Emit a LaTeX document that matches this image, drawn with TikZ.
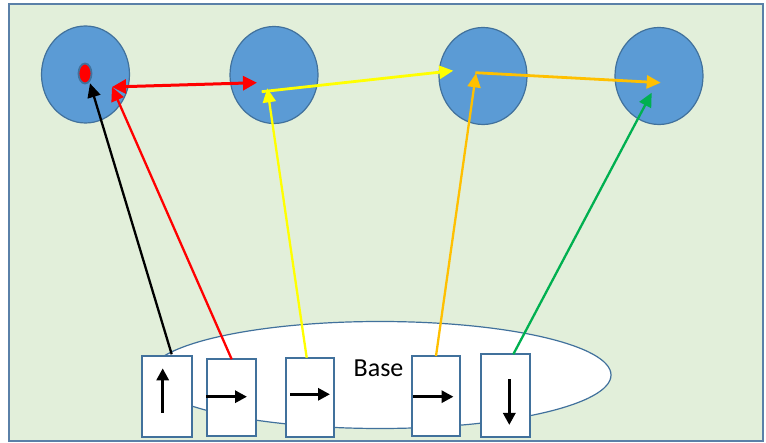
\documentclass[tikz,border=0pt]{standalone}
\usepackage{fontspec}
\setmainfont{Carlito}
\usetikzlibrary{arrows.meta,shapes.geometric}
\definecolor{bgfill}{HTML}{E2EFDA}
\definecolor{frameblue}{HTML}{5A80A8}
\definecolor{circfill}{HTML}{5B9BD5}
\definecolor{circline}{HTML}{41719C}
\definecolor{myyellow}{HTML}{FFFF00}
\definecolor{myorange}{HTML}{FFC000}
\definecolor{mygreen}{HTML}{00B050}
\tikzset{
  site/.style={ellipse, draw=circline, line width=1.2pt, fill=circfill, minimum width=88pt, minimum height=97pt, inner sep=0pt},
  cell/.style={rectangle, draw=circline, line width=1.8pt, fill=white, minimum width=48pt, minimum height=79pt, inner sep=0pt},
  link/.style={line width=2.3pt, -{Triangle[length=14pt,width=13pt]}},
  inarrow/.style={line width=3pt, -{Triangle[length=12pt,width=12pt]}}
}
\begin{document}
\begin{tikzpicture}[x=1pt,y=-1pt]
\useasboundingbox (0,0) rectangle (766,443);
\draw[fill=bgfill, draw=frameblue, line width=2pt] (9,4) rectangle (763,441);
% base
\node[ellipse, draw=circline, line width=1.2pt, fill=white, minimum width=462pt, minimum height=107pt, inner sep=0pt] (base) at (380,375) {};
\node[font=\fontsize{26}{26}\selectfont, anchor=center] (basetxt) at (378.5,368) {Base};
% top sites
\node[site] (c1) at (85.5,74.5) {};
\node[site] (c2) at (274,75) {};
\node[site] (c3) at (483,76) {};
\node[site] (c4) at (659,76) {};
\node[ellipse, draw=circline, line width=1.8pt, fill=red, minimum width=13pt, minimum height=20pt, inner sep=0pt] (dot) at (85,73.5) {};
% boxes
\node[cell, minimum width=50pt, minimum height=81pt] (b1) at (166.7,396.3) {};
\node[cell, minimum width=48.7pt, minimum height=76.4pt] (b2) at (231.7,397.5) {};
\node[cell, minimum width=48.3pt, minimum height=79pt] (b3) at (309.8,397.2) {};
\node[cell, minimum width=48.3pt, minimum height=79.7pt] (b4) at (435.8,395.8) {};
\node[cell, minimum width=49.3pt, minimum height=82.4pt] (b5) at (505.3,395.5) {};
% arrows in boxes
\coordinate (a1s) at (162.7,412.7); \coordinate (a1e) at (162.7,368.3);
\coordinate (a2s) at (206,396.7); \coordinate (a2e) at (247,396.7);
\coordinate (a3s) at (290,394.3); \coordinate (a3e) at (330,394.3);
\coordinate (a4s) at (412.7,396.7); \coordinate (a4e) at (453.5,396.7);
\coordinate (a5s) at (509.3,379.3); \coordinate (a5e) at (509.3,425);
\draw[inarrow] (a1s) -- (a1e);
\draw[inarrow] (a2s) -- (a2e);
\draw[inarrow] (a3s) -- (a3e);
\draw[inarrow] (a4s) -- (a4e);
\draw[inarrow] (a5s) -- (a5e);
% connectors
\coordinate (k1) at (171.7,354.3);
\coordinate (k2) at (231.7,359.3);
\coordinate (k3) at (306.7,357.7);
\coordinate (k4) at (436,356);
\coordinate (k5) at (513.3,354.3);
\coordinate (t1) at (90,83.3);
\coordinate (t2) at (112,87);
\coordinate (t3) at (257,82.7);
\coordinate (t4) at (267.3,88.3);
\coordinate (t5) at (261.7,91.7);
\coordinate (t6) at (453.3,70.7);
\coordinate (t7) at (476,73.3);
\coordinate (t8) at (475.3,72.7);
\coordinate (t9) at (660.7,82.7);
\coordinate (t10) at (651.7,92.7);
\draw[link, black] (k1) -- (t1);
\draw[link, red] (k2) -- (t2);
\draw[line width=3pt, red, {Triangle[length=14pt,width=14pt]}-{Triangle[length=14pt,width=14pt]}] (t2) -- (t3);
\draw[link, myyellow] (k3) -- (t4);
\draw[link, myyellow, line width=2.8pt] (t5) -- (t6);
\draw[link, myorange] (k4) -- (t7);
\draw[link, myorange, line width=2.8pt] (t8) -- (t9);
\draw[link, mygreen] (k5) -- (t10);
\end{tikzpicture}
\end{document}
